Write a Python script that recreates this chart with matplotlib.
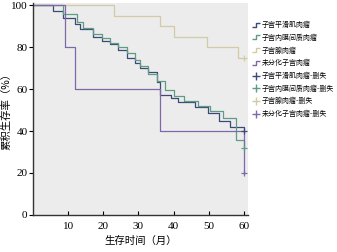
import matplotlib
matplotlib.use("Agg")
import matplotlib.pyplot as plt
from matplotlib.lines import Line2D
from matplotlib.path import Path

plt.rcParams['font.family'] = ['Liberation Serif', 'Noto Sans CJK SC']

# Kaplan-Meier curves (time in months, survival %)
lms_t = [0, 5.8, 8.6, 12.0, 13.4, 17.1, 19.7, 21.9, 24.2, 26.8, 29.0, 30.5, 32.7, 35.3, 36.1, 39.2, 41.3, 46.0, 49.8, 53.0, 56.0, 60]
lms_s = [100, 97, 94, 91, 88.5, 85, 83, 81.5, 78.5, 75, 72.5, 70, 68, 63.5, 57, 55.5, 54, 51.5, 48.5, 45, 42, 40]
ess_t = [0, 8.6, 12.6, 14.3, 17.1, 19.7, 21.9, 24.2, 26.8, 29.0, 30.5, 32.7, 35.3, 37.5, 40.0, 43.0, 47.0, 50.5, 54.0, 57.9, 60]
ess_s = [100, 96, 92, 89, 86, 84.5, 82, 80, 77, 74, 71, 67, 64, 59.5, 56.5, 54.5, 52, 49.5, 46, 35.7, 32]
ads_t = [0, 23.0, 36.2, 40.2, 49.4, 58.4, 60]
ads_s = [100, 95, 90, 85, 80, 75, 75]
uus_t = [0, 9.0, 12.0, 36.2, 60]
uus_s = [100, 80, 60, 40, 20]

# censored points
cens_t = [60, 60, 60, 60]
cens_s = [40, 32, 75, 20]

names = ['子宫平滑肌肉瘤', '子宫内膜间质肉瘤', '子宫腺肉瘤', '未分化子宫肉瘤']
colors = ['#3d4a78', '#5e9c86', '#d3caa6', '#7d68a8']

fig = plt.figure(figsize=(3.37, 2.52), dpi=100)
ax = fig.add_axes([0.098, 0.147, 0.638, 0.841])
ax.set_facecolor('#ececec')

curves = [(lms_t, lms_s), (ess_t, ess_s), (ads_t, ads_s), (uus_t, uus_s)]
for (t, s), c in zip(curves, colors):
    ax.step(t, s, where='post', color=c, lw=0.9)
for t, s, c in zip(cens_t, cens_s, colors):
    ax.plot(t, s, marker='+', color=c, ms=4, mew=0.9, ls='none')

ax.set_xlim(0, 61.2)
ax.set_ylim(0, 101)
ax.set_xticks([10, 20, 30, 40, 50, 60])
ax.set_yticks([0, 20, 40, 60, 80, 100])
ax.tick_params(axis='x', direction='in', length=3, labelsize=8, pad=5)
ax.tick_params(axis='y', direction='out', length=3, labelsize=8, pad=1)
for sp in ['top', 'right']:
    ax.spines[sp].set_visible(False)
for sp in ['left', 'bottom']:
    ax.spines[sp].set_color('#333333')
    ax.spines[sp].set_linewidth(1.0)

ax.set_xlabel('生存时间（月）', fontsize=7.5, family=['Noto Sans CJK SC'])
ax.xaxis.set_label_coords(0.5, -0.1)
ax.set_ylabel('累积生存率（%）', fontsize=7.5, family=['Noto Sans CJK SC'])
ax.yaxis.set_label_coords(-0.1, 0.5)

step_marker = Path([(-1, -0.5), (0, -0.5), (0, 0.5), (1, 0.5)],
                   [Path.MOVETO, Path.LINETO, Path.LINETO, Path.LINETO])
handles = []
labels = []
for n, c in zip(names, colors):
    handles.append(Line2D([], [], ls='none', marker=step_marker, ms=6, mfc='none', mec=c, mew=1.0))
    labels.append(n)
for n, c in zip(names, colors):
    handles.append(Line2D([], [], ls='none', marker='+', ms=6, mec=c, mew=1.0))
    labels.append(n + '-删失')

fig.legend(handles, labels, loc='upper left', bbox_to_anchor=(0.738, 0.93),
           frameon=False, prop={'family': ['Noto Sans CJK SC'], 'size': 5.0},
           handlelength=1.0, handletextpad=0.4, labelspacing=0.68, borderpad=0)

fig.savefig('out.png', dpi=100)
